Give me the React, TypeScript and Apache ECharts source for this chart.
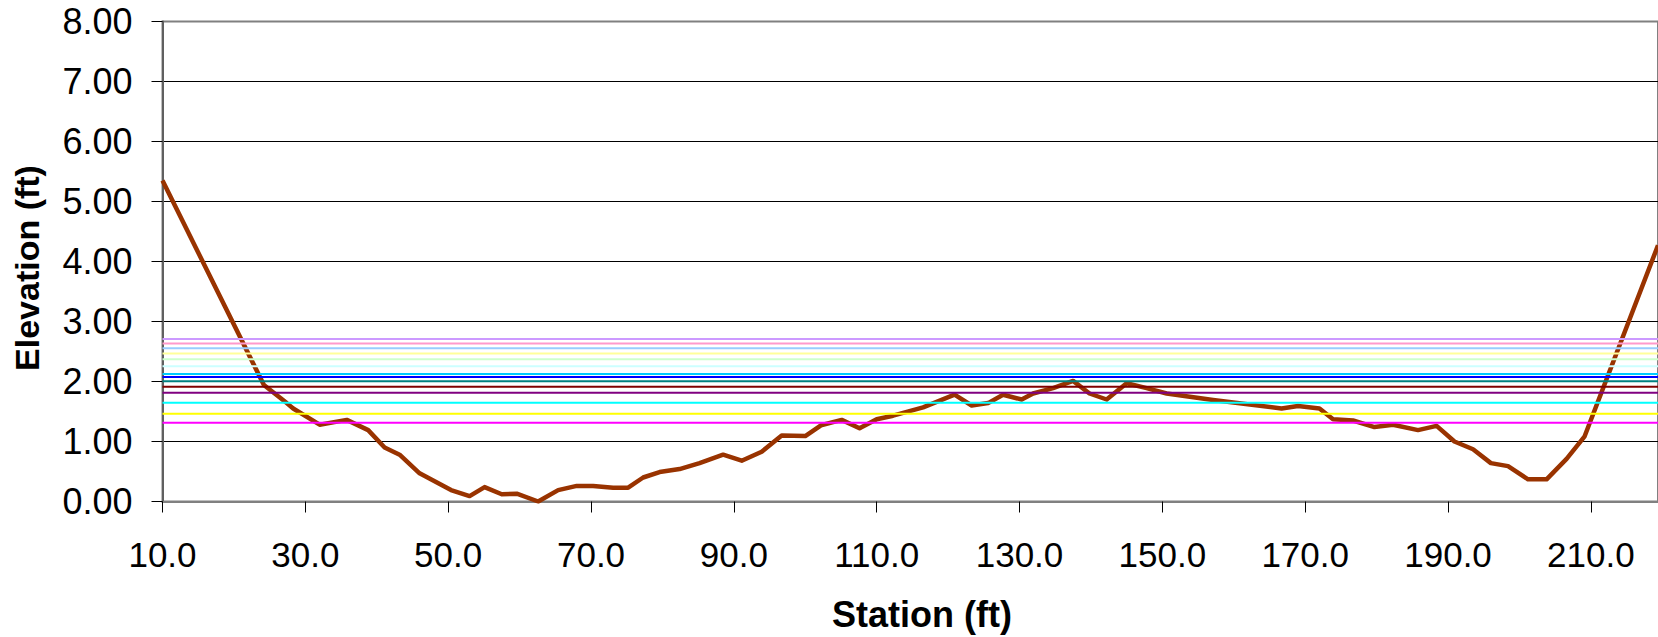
import { useEffect, useRef } from "react";
import * as echarts from "echarts";

// Ground profile: station (ft) and elevation (ft)
const STATIONS = [
  10.0, 24.2, 27.4, 28.3, 32.0, 35.8, 38.8, 41.1, 43.2, 46.0,
  50.4, 53.0, 55.1, 57.5, 59.6, 62.6, 65.4, 68.0, 70.3, 73.1,
  75.2, 77.3, 79.6, 82.4, 85.2, 88.5, 91.1, 93.9, 96.7, 100.0,
  102.2, 105.1, 107.6, 110.0, 112.3, 116.5, 120.9, 123.3, 125.6, 127.7,
  130.3, 131.9, 134.7, 137.5, 139.8, 142.2, 145.0, 147.8, 150.6, 157.1,
  166.7, 169.0, 172.0, 173.9, 176.7, 179.7, 182.3, 185.8, 188.4, 190.9,
  193.5, 196.0, 198.4, 201.2, 203.8, 206.6, 209.1, 219.4,
];
const ELEVATIONS = [
  5.35, 1.94, 1.64, 1.55, 1.28, 1.36, 1.19, 0.9, 0.78, 0.47,
  0.19, 0.09, 0.24, 0.12, 0.13, 0.0, 0.19, 0.26, 0.26, 0.23,
  0.23, 0.4, 0.49, 0.54, 0.64, 0.78, 0.68, 0.83, 1.1, 1.09,
  1.27, 1.36, 1.22, 1.37, 1.43, 1.57, 1.78, 1.6, 1.64, 1.78,
  1.7, 1.8, 1.89, 2.01, 1.8, 1.7, 1.97, 1.89, 1.8, 1.69,
  1.55, 1.59, 1.55, 1.37, 1.35, 1.24, 1.28, 1.19, 1.26, 1.0,
  0.87, 0.64, 0.59, 0.37, 0.37, 0.71, 1.08, 4.27,
];

// Water surface elevations (ft) and their line colours
const WATER_LEVELS = [
  1.314, 1.464, 1.647, 1.814, 1.914, 2.004, 2.076, 2.126, 2.255, 2.37,
  2.465, 2.555, 2.635, 2.71,
];
const WATER_COLORS = [
  "#FF00FF", "#FFFF00", "#00FFFF", "#800080", "#800000", "#008080", "#0000FF",
  "#00CCFF", "#CCFFFF", "#CCFFCC", "#FFFF99", "#99CCFF", "#FF99CC", "#CC99FF",
];

const X_MIN = 10;
const X_MAX = 219.4;
const X_INTERVAL = 20;
const Y_MIN = 0;
const Y_MAX = 8;
const Y_INTERVAL = 1;

const X_TITLE = "Station (ft)";
const Y_TITLE = "Elevation (ft)";

const FONT = "'Liberation Sans', Arial, Helvetica, sans-serif";

export default function App() {
  const ref = useRef<HTMLDivElement>(null);

  useEffect(() => {
    if (!ref.current) return;
    const chart = echarts.init(ref.current, undefined, { renderer: "svg" });

    const ground = STATIONS.map((s, i) => [s, ELEVATIONS[i]]);

    const waterSeries = WATER_LEVELS.map((lvl, i) => ({
      type: "line",
      name: "WS " + (i + 1),
      data: [
        [X_MIN, lvl],
        [X_MAX, lvl],
      ],
      showSymbol: false,
      symbol: "none",
      lineStyle: { color: WATER_COLORS[i], width: 2 },
      itemStyle: { color: WATER_COLORS[i] },
      z: 3,
      silent: true,
    }));

    const splitColors = [] as string[];
    for (let v = Y_MIN; v <= Y_MAX; v += Y_INTERVAL) {
      splitColors.push(v === Y_MAX ? "#808080" : "#000000");
    }

    chart.setOption({
      animation: false,
      backgroundColor: "#ffffff",
      textStyle: { fontFamily: FONT },
      grid: {
        left: 162.5,
        right: 0,
        top: 21.5,
        bottom: 135.5,
        containLabel: false,
        show: true,
        borderColor: "#808080",
        borderWidth: 2,
        backgroundColor: "transparent",
      },
      xAxis: {
        type: "value",
        min: X_MIN,
        max: X_MAX,
        interval: X_INTERVAL,
        axisLine: { show: true, onZero: false, lineStyle: { color: "#808080", width: 2 } },
        axisTick: { show: true, length: 11, lineStyle: { color: "#000000", width: 1 } },
        axisLabel: {
          show: true,
          margin: 35,
          fontSize: 35,
          color: "#000000",
          fontFamily: FONT,
          showMaxLabel: false,
          formatter: (v: number) => v.toFixed(1),
        },
        splitLine: { show: false },
      },
      yAxis: {
        type: "value",
        min: Y_MIN,
        max: Y_MAX,
        interval: Y_INTERVAL,
        axisLine: { show: true, lineStyle: { color: "#606060", width: 2 } },
        axisTick: { show: true, length: 11, lineStyle: { color: "#000000", width: 1 } },
        axisLabel: {
          show: true,
          margin: 30,
          fontSize: 36,
          color: "#000000",
          fontFamily: FONT,
          formatter: (v: number) => v.toFixed(2),
        },
        splitLine: { show: true, lineStyle: { color: splitColors, width: 1 } },
      },
      graphic: [
        {
          type: "text",
          x: 922,
          y: 614,
          style: {
            text: X_TITLE,
            fontSize: 36,
            fontWeight: "bold",
            fontFamily: FONT,
            fill: "#000000",
            align: "center",
            verticalAlign: "middle",
          },
        },
        {
          type: "text",
          x: 27,
          y: 268,
          rotation: Math.PI / 2,
          style: {
            text: Y_TITLE,
            fontSize: 34,
            fontWeight: "bold",
            fontFamily: FONT,
            fill: "#000000",
            align: "center",
            verticalAlign: "middle",
          },
        },
      ],
      series: [
        {
          type: "line",
          name: "Ground",
          data: ground,
          showSymbol: false,
          symbol: "none",
          lineStyle: { color: "#993300", width: 4.5, join: "round" },
          itemStyle: { color: "#993300" },
          z: 2,
          silent: true,
        },
        ...waterSeries,
      ],
    });

    return () => {
      chart.dispose();
    };
  }, []);

  return (
    <div
      ref={ref}
      style={{ position: "fixed", left: 0, top: 0, width: 1658, height: 637, background: "#fff" }}
    />
  );
}
